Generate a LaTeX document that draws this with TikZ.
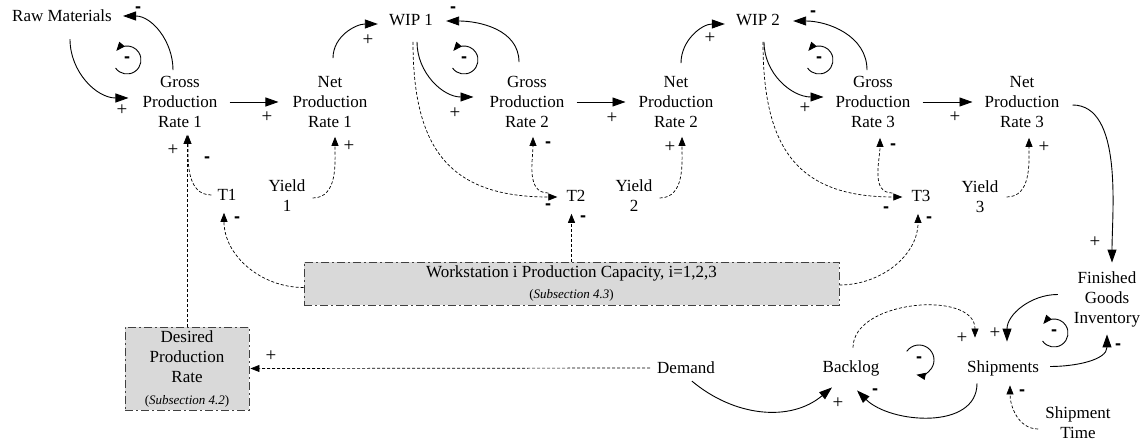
\documentclass[tikz,border=0pt]{standalone}
\usepackage{fontspec}
\setmainfont{Liberation Serif}
\setsansfont{Liberation Sans}
\usetikzlibrary{arrows.meta}

\begin{document}
\begin{tikzpicture}[x=1pt,y=1pt,
  var/.style={align=center,inner sep=0pt,font=\fontsize{17}{20}\selectfont},
  sect/.style={var,draw=black!75,fill=black!15,line width=0.9pt,dash pattern=on 8pt off 3pt on 2pt off 3pt},
  flow/.style={line width=0.9pt,-{Triangle[length=13pt,width=9pt]}},
  info/.style={line width=0.7pt,dash pattern=on 3pt off 2pt,-{Triangle[length=9pt,width=7pt]}},
  loopline/.style={line width=0.9pt,-{Triangle[length=9pt,width=7pt]}},
  pospol/.style={inner sep=0pt,font=\fontsize{19}{19}\selectfont},
  negpol/.style={inner sep=0pt,font=\sffamily\bfseries\fontsize{18}{18}\selectfont}]
\useasboundingbox (0,0) rectangle (1146,444);
% stocks and rates
\node[var] (raw) at (62,428) {Raw Materials};
\node[var] (gpr1) at (180,342) {Gross\\Production\\Rate 1};
\node[var] (npr1) at (330,342) {Net\\Production\\Rate 1};
\node[var] (wip1) at (411,424) {WIP 1};
\node[var] (gpr2) at (527,342) {Gross\\Production\\Rate 2};
\node[var] (npr2) at (676,342) {Net\\Production\\Rate 2};
\node[var] (wip2) at (758,424) {WIP 2};
\node[var] (gpr3) at (873,342) {Gross\\Production\\Rate 3};
\node[var] (npr3) at (1022,342) {Net\\Production\\Rate 3};
\node[var] (t1) at (227,249) {T1};
\node[var] (yld1) at (287,248) {Yield\\1};
\node[var] (t2) at (576,248) {T2};
\node[var] (yld2) at (634,248) {Yield\\2};
\node[var] (t3) at (921,248) {T3};
\node[var] (yld3) at (980,247) {Yield\\3};
\node[sect,minimum width=535pt,minimum height=43pt] (cap) at (571.5,160.5)
  {Workstation i Production Capacity, i=1,2,3\\[1pt]{\fontsize{13}{15}\selectfont(\textit{Subsection 4.3})}};
\node[sect,minimum width=124pt,minimum height=83pt] (dpr) at (187,75.5)
  {Desired\\Production\\Rate\\[2pt]{\fontsize{13}{15}\selectfont(\textit{Subsection 4.2})}};
\node[var] (demand) at (686,76) {Demand};
\node[var] (backlog) at (851,75.5) {Backlog};
\node[var] (ship) at (1003,75.5) {Shipments};
\node[var] (fgi) at (1107,144.5) {Finished\\Goods\\Inventory};
\node[var] (shiptime) at (1078,21) {Shipment\\Time};
% material flow
\draw[flow] ([shift={(8,-17)}]raw.south) to[out=-90,in=180] ([shift={(-14,4)}]gpr1.west);
\draw[flow] ([shift={(-7,6)}]gpr1.north) to[out=90,in=0] ([shift={(11,0)}]raw.east);
\draw[flow] ([xshift=12pt]gpr1.east) -- ([xshift=-14pt]npr1.west);
\draw[flow] ([shift={(3,18)}]npr1.north) to[out=90,in=180] ([shift={(-11,-4)}]wip1.west);
\draw[flow] ([shift={(6,-16)}]wip1.south) to[out=-90,in=180] ([shift={(-16,5)}]gpr2.west);
\draw[flow] ([shift={(-8,14)}]gpr2.north) to[out=90,in=0] ([shift={(13,-1)}]wip1.east);
\draw[flow] ([xshift=12pt]gpr2.east) -- ([xshift=-13pt]npr2.west);
\draw[flow] ([shift={(5,13)}]npr2.north) to[out=90,in=180] ([shift={(-11,-4)}]wip2.west);
\draw[flow] ([shift={(6,-16)}]wip2.south) to[out=-90,in=180] ([shift={(-12,5)}]gpr3.west);
\draw[flow] ([shift={(-6,6)}]gpr3.north) to[out=90,in=0] ([shift={(13,-1)}]wip2.east);
\draw[flow] ([xshift=12pt]gpr3.east) -- ([xshift=-12pt]npr3.west);
\draw[flow] ([shift={(13,-3)}]npr3.east) to[out=0,in=90,looseness=0.8] ([shift={(5,9)}]fgi.north);
\draw[flow] ([shift={(6,-7)}]demand.south) to[out=-40,in=-140] ([shift={(-19,-11)}]backlog.south);
\draw[flow] ([shift={(-26,-7)}]ship.south) to[out=-90,in=-45] ([shift={(6,-14)}]backlog.south);
\draw[flow] ([shift={(-16,5)}]fgi.west) to[out=180,in=90] ([shift={(4,19)}]ship.north);
\draw[flow] ([shift={(11,2)}]ship.east) to[out=0,in=-90] ([yshift=-7pt]fgi.south);
% information links
\draw[info] ([shift={(2,-16)}]wip1.south) to[out=-90,in=180,looseness=1.3] ([shift={(-9,-1)}]t2.west);
\draw[info] ([shift={(-18,3)}]t2.west) to[out=180,in=-90] ([shift={(6,-9)}]gpr2.south);
\draw[info] ([shift={(5,-16)}]wip2.south) to[out=-90,in=180,looseness=1.3] ([shift={(-9,-1)}]t3.west);
\draw[info] ([shift={(-19,3)}]t3.west) to[out=180,in=-90] ([shift={(7,-10)}]gpr3.south);
\draw[info] ([xshift=-6pt]t1.west) to[out=180,in=-90] ([shift={(8,-7)}]gpr1.south);
\draw[info] (dpr.north) -- ([shift={(7,-7)}]gpr1.south);
\draw[info] ([shift={(7,-2)}]yld1.east) to[out=0,in=-90] ([shift={(5,-9)}]npr1.south);
\draw[info] ([shift={(7,-2)}]yld2.east) to[out=0,in=-90] ([shift={(6,-9)}]npr2.south);
\draw[info] ([shift={(8,0)}]yld3.east) to[out=0,in=-90] ([shift={(7,-10)}]npr3.south);
\draw[info] ([yshift=-4pt]cap.west) to[out=180,in=-90] ([shift={(-3,-12)}]t1.south);
\draw[info] (cap.north) -- ([shift={(-4.5,-12)}]t2.south);
\draw[info] ([yshift=-1.5pt]cap.east) to[out=0,in=-90] ([shift={(-3,-12)}]t3.south);
\draw[info] ([xshift=-7pt]demand.west) -- ([xshift=1pt]dpr.east);
\draw[info] ([shift={(2,13)}]backlog.north) to[out=90,in=90] ([shift={(-28,23)}]ship.north);
\draw[info] ([shift={(-7,-6)}]shiptime.west) to[out=180,in=-90] ([shift={(7,-9)}]ship.south);
% feedback loops
\node[negpol] (lpa) at (127,384) {-};
\node[negpol] (lpb) at (464,384) {-};
\node[negpol] (lpc) at (819,384) {-};
\node[negpol] (lpd) at (919,84) {-};
\node[negpol] (lpe) at (1054,111) {-};
\draw[loopline] ([shift={(215:14)}]lpa.center) arc[start angle=215,end angle=500,radius=14];
\draw[loopline] ([shift={(215:14)}]lpb.center) arc[start angle=215,end angle=500,radius=14];
\draw[loopline] ([shift={(215:14)}]lpc.center) arc[start angle=215,end angle=500,radius=14];
\draw[loopline] ([shift={(145:15)}]lpd.center) arc[start angle=145,end angle=-100,radius=15];
\draw[loopline] ([shift={(215:14)}]lpe.center) arc[start angle=215,end angle=500,radius=14];
% polarities
\node[pospol] (p1) at (122,334) {+};
\node[negpol] (p2) at (138,434) {-};
\node[pospol] (p3) at (267,327) {+};
\node[pospol] (p4) at (368,404) {+};
\node[pospol] (p5) at (455,331) {+};
\node[negpol] (p6) at (453,434) {-};
\node[negpol] (p7) at (548,237) {-};
\node[negpol] (p8) at (548,299) {-};
\node[pospol] (p9) at (612,326) {+};
\node[pospol] (p10) at (710,406) {+};
\node[pospol] (p11) at (805,336) {+};
\node[negpol] (p12) at (813,430) {-};
\node[negpol] (p13) at (886,234) {-};
\node[negpol] (p14) at (893,297) {-};
\node[pospol] (p15) at (955,327) {+};
\node[pospol] (p16) at (1095,202) {+};
\node[pospol] (p17) at (349,298) {+};
\node[pospol] (p18) at (670,297) {+};
\node[pospol] (p19) at (1044,297) {+};
\node[negpol] (p20) at (207,284) {-};
\node[pospol] (p21) at (173,294) {+};
\node[negpol] (p22) at (237,224) {-};
\node[negpol] (p23) at (583,225) {-};
\node[negpol] (p24) at (929,224) {-};
\node[pospol] (p25) at (271,88) {+};
\node[pospol] (p26) at (838,41) {+};
\node[negpol] (p27) at (875,52) {-};
\node[pospol] (p28) at (962,106) {+};
\node[pospol] (p29) at (995,111) {+};
\node[negpol] (p30) at (1118,97) {-};
\node[negpol] (p31) at (1022,51) {-};
\end{tikzpicture}
\end{document}
